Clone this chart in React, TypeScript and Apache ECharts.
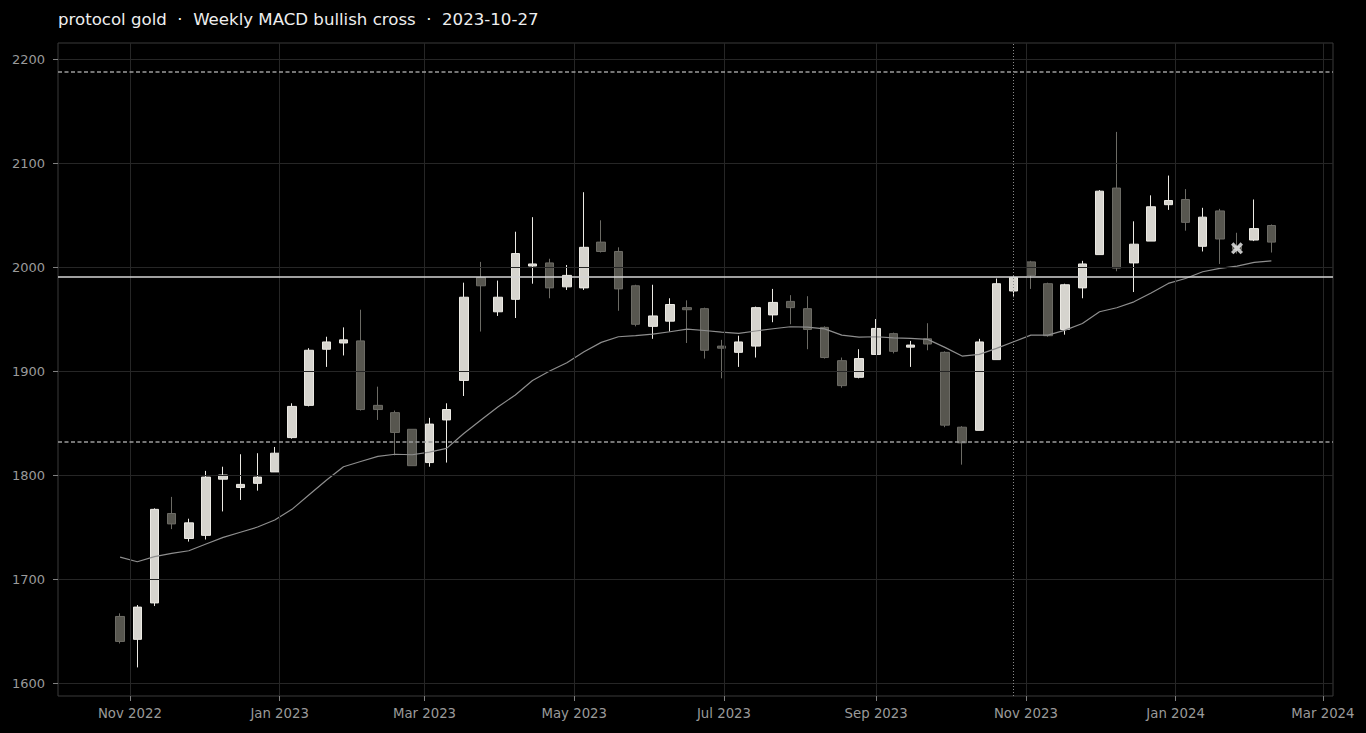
import React, { useEffect, useRef } from "react";
import * as echarts from "echarts";

const dates = [
  "2022-10-28", "2022-11-04", "2022-11-11", "2022-11-18", "2022-11-25", "2022-12-02", "2022-12-09", "2022-12-16", "2022-12-23", "2022-12-30",
  "2023-01-06", "2023-01-13", "2023-01-20", "2023-01-27", "2023-02-03", "2023-02-10", "2023-02-17", "2023-02-24", "2023-03-03", "2023-03-10",
  "2023-03-17", "2023-03-24", "2023-03-31", "2023-04-07", "2023-04-14", "2023-04-21", "2023-04-28", "2023-05-05", "2023-05-12", "2023-05-19",
  "2023-05-26", "2023-06-02", "2023-06-09", "2023-06-16", "2023-06-23", "2023-06-30", "2023-07-07", "2023-07-14", "2023-07-21", "2023-07-28",
  "2023-08-04", "2023-08-11", "2023-08-18", "2023-08-25", "2023-09-01", "2023-09-08", "2023-09-15", "2023-09-22", "2023-09-29", "2023-10-06",
  "2023-10-13", "2023-10-20", "2023-10-27", "2023-11-03", "2023-11-10", "2023-11-17", "2023-11-24", "2023-12-01", "2023-12-08", "2023-12-15",
  "2023-12-22", "2023-12-29", "2024-01-05", "2024-01-12", "2024-01-19", "2024-01-26", "2024-02-02", "2024-02-09",
];

const opens = [
  1664, 1642, 1677, 1763, 1739, 1742, 1796, 1788, 1792, 1803,
  1836, 1867, 1921, 1927, 1929, 1867, 1860, 1844, 1812, 1853,
  1891, 1990, 1957, 1969, 2001, 2004, 1981, 1980, 2024, 2015,
  1982, 1943, 1948, 1961, 1960, 1924, 1918, 1924, 1954, 1967,
  1960, 1942, 1910, 1894, 1916, 1936, 1923, 1931, 1918, 1846,
  1843, 1911, 1977, 2005, 1984, 1940, 1980, 2012, 2076, 2004,
  2025, 2060, 2065, 2020, 2054, 2020, 2026, 2040,
];
const closes = [
  1640, 1673, 1767, 1753, 1754, 1798, 1800, 1791, 1798, 1821,
  1866, 1920, 1928, 1930, 1863, 1863, 1841, 1809, 1849, 1863,
  1971, 1982, 1971, 2013, 2003, 1980, 1992, 2019, 2015, 1979,
  1945, 1953, 1964, 1959, 1920, 1922, 1928, 1961, 1966, 1961,
  1940, 1913, 1886, 1912, 1941, 1919, 1925, 1926, 1848, 1831,
  1928, 1984, 1990, 1992, 1934, 1983, 2003, 2073, 1999, 2022,
  2058, 2064, 2043, 2048, 2027, 2017, 2037, 2024,
];
const lows = [
  1638, 1615, 1674, 1748, 1736, 1738, 1765, 1776, 1785, 1803,
  1835, 1866, 1904, 1915, 1862, 1853, 1819, 1809, 1808, 1812,
  1876, 1938, 1953, 1951, 1984, 1970, 1978, 1978, 2014, 1958,
  1943, 1931, 1938, 1927, 1912, 1893, 1904, 1913, 1947, 1945,
  1921, 1912, 1884, 1893, 1916, 1917, 1904, 1920, 1846, 1810,
  1843, 1911, 1971, 1979, 1933, 1935, 1970, 2012, 1996, 1976,
  2025, 2055, 2035, 2015, 2003, 2013, 2025, 2014,
];
const highs = [
  1667, 1675, 1768, 1779, 1758, 1804, 1808, 1820, 1821, 1827,
  1869, 1922, 1933, 1942, 1959, 1885, 1862, 1844, 1855, 1869,
  1985, 2005, 1987, 2034, 2048, 2008, 2002, 2072, 2045, 2019,
  1983, 1983, 1970, 1968, 1961, 1930, 1934, 1962, 1979, 1973,
  1972, 1943, 1913, 1921, 1950, 1937, 1929, 1946, 1919, 1847,
  1931, 1989, 1991, 2006, 1985, 1984, 2006, 2074, 2130, 2044,
  2069, 2088, 2075, 2057, 2056, 2033, 2065, 2041,
];
const maValues = [
  1721, 1716.6, 1721.5, 1724.7, 1727.2, 1733.7, 1740, 1745, 1750, 1756.7,
  1767, 1781, 1795, 1808, 1813, 1818, 1820, 1819.5, 1822, 1825.6,
  1840, 1853, 1865.7, 1877, 1891, 1900, 1908, 1918.6, 1927.6, 1933,
  1934, 1935.6, 1937.8, 1940.4, 1939, 1937.5, 1936.3, 1938.5, 1940.7, 1942.6,
  1942.3, 1940.6, 1934.6, 1932.7, 1933, 1932, 1931.4, 1930.5, 1922.8, 1914.4,
  1916, 1921.8, 1928.2, 1934.6, 1934.6, 1939.4, 1945.8, 1957, 1960.9, 1966.6,
  1975, 1984.3, 1989, 1995.5, 1998.7, 2001, 2004.5, 2006,
];

const signalDate = "2023-10-27";
const signalClose = 1990.4;
const upperLevel = 2187.5;
const lowerLevel = 1831.7;
const exitDate = "2024-01-26";
const exitPrice = 2018;

const monthTickDates = [
  "2022-11-01", "2023-01-01", "2023-03-01", "2023-05-01", "2023-07-01",
  "2023-09-01", "2023-11-01", "2024-01-01", "2024-03-01",
];
const yTicks = [1600, 1700, 1800, 1900, 2000, 2100, 2200];
const monthNames = ["Jan", "Feb", "Mar", "Apr", "May", "Jun", "Jul", "Aug", "Sep", "Oct", "Nov", "Dec"];

const toTs = (s: string) => {
  const [y, m, d] = s.split("-").map(Number);
  return Date.UTC(y, m - 1, d);
};
const DAY = 86400000;
const FONT = "DejaVu Sans";

export default function App() {
  const ref = useRef<HTMLDivElement>(null);
  useEffect(() => {
    document.body.style.margin = "0";
    document.body.style.background = "#000";
    if (!ref.current) return;
    const chart = echarts.init(ref.current, undefined, { renderer: "svg" });
    const ts = dates.map(toTs);
    const monthTicks = monthTickDates.map(toTs);
    const candleData = ts.map((t, i) => [t, opens[i], closes[i], lows[i], highs[i]]);
    const maData = ts.map((t, i) => [t, maValues[i]]);
    const xMin = ts[0] - 25.3 * DAY;
    const xMax = ts[ts.length - 1] + 25.1 * DAY;
    const gridLineStyle = { color: "#262626", width: 1, type: "solid" };
    const dashStyle = { color: "#9c9c9c", width: 1.6, type: [4, 2.5] };

    const option: any = {
      animation: false,
      backgroundColor: "#000000",
      title: {
        text: "protocol gold  ·  Weekly MACD bullish cross  ·  2023-10-27",
        left: 53,
        top: 6,
        textStyle: { color: "#eeeeee", fontSize: 16.6, fontWeight: "normal", fontFamily: FONT },
      },
      grid: {
        left: 58,
        right: 33,
        top: 43,
        bottom: 37,
        show: true,
        borderColor: "#3a3a3a",
        borderWidth: 1,
        backgroundColor: "transparent",
      },
      xAxis: {
        type: "value",
        min: xMin,
        max: xMax,
        axisLine: { show: false },
        splitLine: { show: false },
        axisTick: { show: true, customValues: monthTicks, length: 5, lineStyle: { color: "#808080" } },
        axisLabel: {
          customValues: monthTicks,
          formatter: (v: number) => {
            const d = new Date(v);
            return monthNames[d.getUTCMonth()] + " " + d.getUTCFullYear();
          },
          color: "#9a9a9a",
          fontSize: 13.3,
          fontFamily: FONT,
          margin: 11,
          hideOverlap: false,
        },
      },
      yAxis: {
        type: "value",
        min: 1587.5,
        max: 2215.5,
        axisLine: { show: false },
        splitLine: { show: false },
        axisTick: { show: true, customValues: yTicks, length: 5, lineStyle: { color: "#808080" } },
        axisLabel: {
          customValues: yTicks,
          formatter: (v: number) => String(v),
          color: "#9a9a9a",
          fontSize: 13,
          fontFamily: FONT,
          margin: 13,
        },
      },
      series: [
        {
          type: "candlestick",
          data: candleData,
          barWidth: 9,
          z: 2,
          itemStyle: {
            color: "#d6d4ce",
            color0: "#57564f",
            borderColor: "#eceae4",
            borderColor0: "#6c6b65",
            borderWidth: 1,
          },
          markLine: {
            silent: true,
            symbol: "none",
            label: { show: false },
            animation: false,
            lineStyle: gridLineStyle,
            data: [
              ...monthTicks.map((t) => ({ xAxis: t, lineStyle: gridLineStyle })),
              ...yTicks.map((v) => ({ yAxis: v, lineStyle: gridLineStyle })),
            ],
          },
        },
        {
          type: "line",
          data: maData,
          showSymbol: false,
          symbol: "none",
          z: 4,
          lineStyle: { color: "#8e8e8e", width: 1.2 },
          markLine: {
            silent: true,
            symbol: "none",
            label: { show: false },
            animation: false,
            data: [
              { yAxis: upperLevel, lineStyle: dashStyle },
              { yAxis: lowerLevel, lineStyle: dashStyle },
              { yAxis: signalClose, lineStyle: { color: "#d4d4d4", width: 1.6, type: "solid" } },
              { xAxis: toTs(signalDate), lineStyle: { color: "#8a8a8a", width: 1, type: [1, 2] } },
            ],
          },
        },
        {
          type: "scatter",
          data: [[toTs(exitDate), exitPrice]],
          symbol: "path://M2,0 L5,3 L8,0 L10,2 L7,5 L10,8 L8,10 L5,7 L2,10 L0,8 L3,5 L0,2 Z",
          symbolSize: 12,
          z: 10,
          itemStyle: { color: "#f2f2f2" },
        },
      ],
    };
    chart.setOption(option);
    return () => chart.dispose();
  }, []);
  return <div ref={ref} style={{ position: "fixed", left: 0, top: 0, width: 1366, height: 733 }} />;
}
